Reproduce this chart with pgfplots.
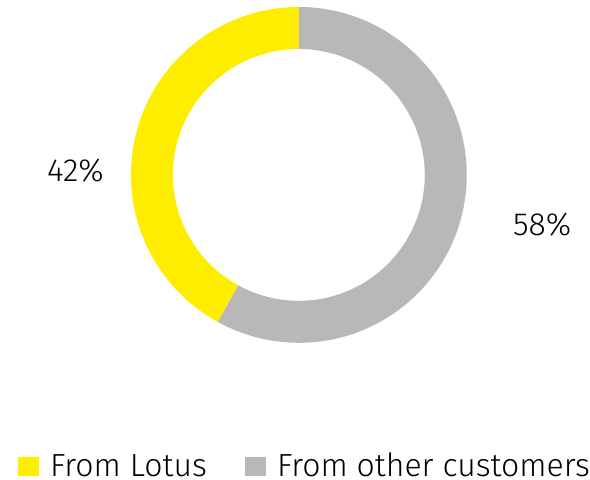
\documentclass[border=0pt]{standalone}
\usepackage{pgfplots}
\pgfplotsset{compat=1.18}
\usepackage{pgfplotstable}
\usepackage{fontspec}
\setmainfont{Fira Sans}[UprightFont=* Light]
\definecolor{eyyellow}{HTML}{FFED00}
\definecolor{eygray}{HTML}{B8B8B8}

\pgfplotstableread{
label value
Lotus 42
Other 58
}\sharedata

\begin{document}
\begin{tikzpicture}
\pgfplotstablegetelem{0}{value}\of\sharedata \let\vlotus\pgfplotsretval
\pgfplotstablegetelem{1}{value}\of\sharedata \let\vother\pgfplotsretval
\pgfmathsetmacro{\alotus}{90+3.6*\vlotus}
\begin{axis}[
    width=590pt, height=480pt, scale only axis,
    xmin=0, xmax=590, ymin=0, ymax=480,
    hide axis, clip=false,
]
% keep the whole canvas in the bounding box
\path (axis cs:0,0) rectangle (axis cs:590,480);
\begin{scope}[shift={(axis cs:299,305)}]
\fill[eyyellow] (90:168pt) arc[start angle=90, end angle=\alotus, radius=168pt]
    -- (\alotus:126pt) arc[start angle=\alotus, end angle=90, radius=126pt] -- cycle;
\fill[eygray] (90:168pt) arc[start angle=90, end angle=\alotus-360, radius=168pt]
    -- (\alotus:126pt) arc[start angle=\alotus-360, end angle=90, radius=126pt] -- cycle;
\end{scope}
\node[font=\fontsize{32}{36}\selectfont] at (axis cs:75.5,309) {\vlotus\%};
\node[font=\fontsize{32}{36}\selectfont] at (axis cs:542.5,255.5) {\vother\%};
% legend
\fill[eyyellow] (axis cs:18,4) rectangle (axis cs:39,23);
\node[font=\fontsize{32}{36}\selectfont, anchor=base west, inner sep=0pt] at (axis cs:50,3) {From Lotus};
\fill[eygray] (axis cs:245,4) rectangle (axis cs:266,23);
\node[font=\fontsize{32}{36}\selectfont, anchor=base west, inner sep=0pt] at (axis cs:277,3) {From other customers};
\end{axis}
\end{tikzpicture}
\end{document}
